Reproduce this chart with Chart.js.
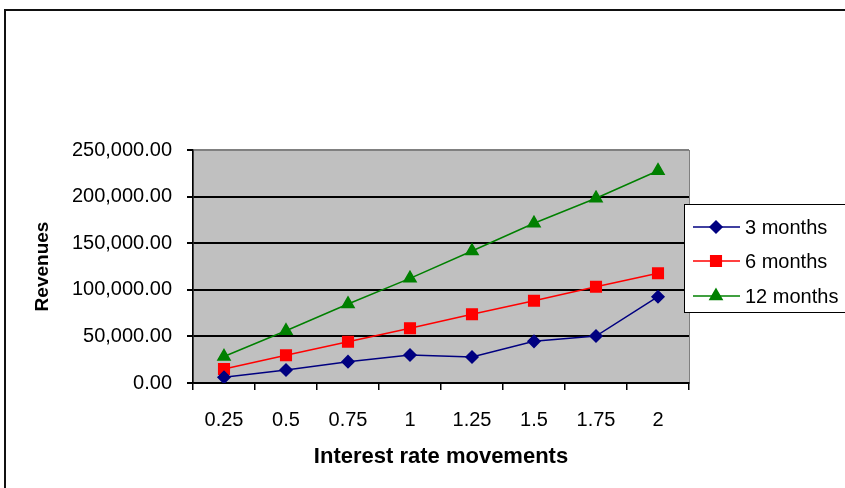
<!DOCTYPE html>
<html>
<head>
<meta charset="utf-8">
<script src="https://cdn.jsdelivr.net/npm/chart.js@4/dist/chart.umd.min.js"></script>
<style>
  body { margin: 0; background: #fff; }
  #wrap { position: relative; width: 845px; height: 488px; overflow: hidden; }
  #frame { position: absolute; left: 4px; top: 9px; width: 900px; height: 600px; border: 2px solid #111; pointer-events: none; }
</style>
</head>
<body>
<div id="wrap">
  <canvas id="myChart" width="845" height="488"></canvas>
  <div id="frame"></div>
</div>
<script>
const rateMoves = ['0.25', '0.5', '0.75', '1', '1.25', '1.5', '1.75', '2'];
const rev3m = [6100, 13900, 22900, 30000, 27900, 44700, 50400, 92600];
const rev6m = [15000, 29700, 44300, 58800, 73800, 88300, 103300, 117700];
const rev12m = [28400, 56000, 84800, 112300, 141600, 171400, 198300, 227800];
const yTicks = [0, 50000, 100000, 150000, 200000, 250000];

const fmt = v => v.toLocaleString('en-US', { minimumFractionDigits: 2, maximumFractionDigits: 2 });

// grey plot background, like the old spreadsheet charts
const plotBg = {
    id: 'plotBg',
    beforeDraw(chart) {
        const a = chart.chartArea;
        const ctx = chart.ctx;
        ctx.save();
        ctx.fillStyle = '#c0c0c0';
        ctx.fillRect(a.left, a.top, a.right - a.left, a.bottom - a.top);
        ctx.strokeStyle = '#808080';
        ctx.lineWidth = 1;
        ctx.strokeRect(a.left + 0.5, a.top + 0.5, a.right - a.left, a.bottom - a.top);
        ctx.restore();
    }
};

// boxed legend on the right, overlapping the plot edge
const boxLegend = {
    id: 'boxLegend',
    afterDraw(chart) {
        const ctx = chart.ctx;
        const x0 = 684, y0 = 204;
        const rows = [227, 261, 296];
        ctx.save();
        ctx.fillStyle = '#fff';
        ctx.fillRect(x0, y0, 200, 108);
        ctx.strokeStyle = '#000';
        ctx.lineWidth = 1;
        ctx.strokeRect(x0 + 0.5, y0 + 0.5, 200, 108);
        chart.data.datasets.forEach((ds, i) => {
            const y = rows[i];
            ctx.strokeStyle = ds.borderColor;
            ctx.lineWidth = 1.5;
            ctx.beginPath();
            ctx.moveTo(693, y);
            ctx.lineTo(740, y);
            ctx.stroke();
            ctx.fillStyle = ds.pointBackgroundColor;
            ctx.strokeStyle = ds.pointBorderColor;
            Chart.helpers.drawPoint(ctx, { pointStyle: ds.pointStyle, rotation: 0, radius: ds.pointRadius, borderWidth: 1 }, 716, y);
            ctx.fillStyle = '#000';
            ctx.font = '20px "Liberation Sans", Arial, sans-serif';
            ctx.textBaseline = 'middle';
            ctx.textAlign = 'left';
            ctx.fillText(ds.label, 745, y + 1);
        });
        ctx.restore();
    }
};

const ctx = document.getElementById('myChart').getContext('2d');
new Chart(ctx, {
    type: 'line',
    data: {
        labels: rateMoves,
        datasets: [
            {
                label: '3 months',
                data: rev3m,
                borderColor: '#000080',
                backgroundColor: '#000080',
                pointBackgroundColor: '#000080',
                pointBorderColor: '#000080',
                pointStyle: 'rectRot',
                pointRadius: 6,
                borderWidth: 1.5
            },
            {
                label: '6 months',
                data: rev6m,
                borderColor: '#ff0000',
                backgroundColor: '#ff0000',
                pointBackgroundColor: '#ff0000',
                pointBorderColor: '#ff0000',
                pointStyle: 'rect',
                pointRadius: 7.5,
                borderWidth: 1.5
            },
            {
                label: '12 months',
                data: rev12m,
                borderColor: '#008000',
                backgroundColor: '#008000',
                pointBackgroundColor: '#008000',
                pointBorderColor: '#008000',
                pointStyle: 'triangle',
                pointRadius: 7,
                borderWidth: 1.5
            }
        ]
    },
    options: {
        responsive: false,
        animation: false,
        layout: { padding: { top: 150, right: 156, left: 0, bottom: 0 } },
        plugins: {
            legend: { display: false },
            tooltip: { enabled: false }
        },
        scales: {
            x: {
                offset: true,
                grid: { offset: true, drawOnChartArea: false, drawTicks: true, tickLength: 7, color: '#000', lineWidth: 1.5 },
                border: { color: '#000', width: 1.5 },
                ticks: { color: '#000', padding: 18, font: { family: '"Liberation Sans", Arial, sans-serif', size: 20 } },
                title: {
                    display: true,
                    text: 'Interest rate movements',
                    color: '#000',
                    font: { family: '"Liberation Sans", Arial, sans-serif', size: 22, weight: 'bold' },
                    padding: { top: 0, bottom: 18 }
                },
                afterFit: s => { s.height = 105; }
            },
            y: {
                min: 0,
                max: 250000,
                afterBuildTicks: s => { s.ticks = yTicks.map(v => ({ value: v })); },
                grid: {
                    color: c => c.tick && c.tick.value === 250000 ? '#808080' : '#000',
                    lineWidth: 2,
                    tickLength: 6,
                    tickColor: '#000'
                },
                border: { color: '#000', width: 1.5 },
                ticks: {
                    color: '#000',
                    padding: 15,
                    font: { family: '"Liberation Sans", Arial, sans-serif', size: 20 },
                    callback: v => fmt(v)
                },
                title: {
                    display: true,
                    text: 'Revenues',
                    color: '#000',
                    font: { family: '"Liberation Sans", Arial, sans-serif', size: 19, weight: 'bold' },
                    padding: { top: 31, bottom: 0 }
                },
                afterFit: s => { s.width = 193; }
            }
        }
    },
    plugins: [plotBg, boxLegend]
});
</script>
</body>
</html>
